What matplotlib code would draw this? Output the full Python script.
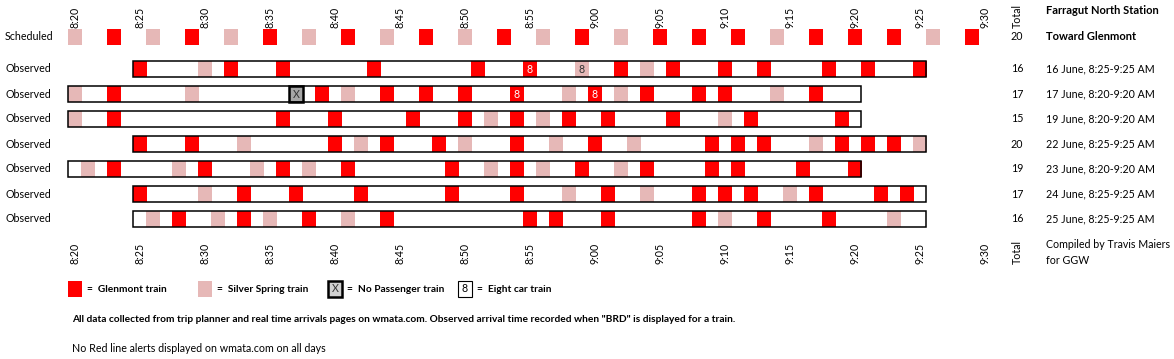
import matplotlib
matplotlib.use("Agg")
import matplotlib.pyplot as plt
from matplotlib.patches import Rectangle

plt.rcParams['font.family'] = ['Lato', 'DejaVu Sans']

GLEN = '#ff0000'
SILV = '#e6b8b7'
NOPASS = '#a6a6a6'

# minutes after 8:20.  G = Glenmont, S = Silver Spring, X = no passenger,
# a trailing 8 marks an eight car train
tick_labels = ['8:20', '8:25', '8:30', '8:35', '8:40', '8:45', '8:50', '8:55',
               '9:00', '9:05', '9:10', '9:15', '9:20', '9:25', '9:30']

sched_min = [0, 3, 6, 9, 12, 15, 18, 21, 24, 27, 30, 33, 36, 39, 42, 45,
             48, 51, 54, 57, 60, 63, 66, 69]
sched_type = ['S', 'G', 'S', 'G', 'S', 'G', 'S', 'G', 'S', 'G', 'S', 'G',
              'S', 'G', 'S', 'G', 'G', 'G', 'S', 'G', 'G', 'G', 'S', 'G']
sched_total = 20

jun16_min = [5, 10, 12, 16, 23, 31, 35, 39, 42, 44, 46, 50, 53, 58, 61, 65]
jun16_type = ['G', 'S', 'G', 'G', 'G', 'G', 'G8', 'S8', 'G', 'S', 'G', 'G',
              'G', 'G', 'G', 'G']
jun17_min = [0, 3, 9, 17, 19, 21, 24, 27, 30, 34, 38, 40, 42, 44, 48, 50, 54, 57]
jun17_type = ['S', 'G', 'S', 'X', 'G', 'S', 'G', 'G', 'G', 'G8', 'S', 'G8',
              'S', 'G', 'G', 'G', 'S', 'G']
jun19_min = [0, 3, 16, 20, 26, 30, 32, 34, 36, 38, 41, 46, 50, 52, 59]
jun19_type = ['S', 'G', 'G', 'G', 'G', 'G', 'S', 'G', 'S', 'G', 'G', 'G',
              'S', 'G', 'G']
jun22_min = [5, 9, 13, 20, 22, 24, 28, 30, 34, 37, 40, 43, 49, 51, 53, 57,
             59, 61, 63, 65]
jun22_type = ['G', 'G', 'S', 'G', 'S', 'G', 'G', 'S', 'G', 'S', 'G', 'S',
              'G', 'G', 'G', 'S', 'G', 'G', 'G', 'S']
jun23_min = [1, 3, 8, 10, 14, 16, 18, 21, 29, 32, 34, 36, 39, 42, 44, 49,
             51, 56, 60]
jun23_type = ['S', 'G', 'S', 'G', 'S', 'G', 'S', 'G', 'G', 'S', 'G', 'S',
              'G', 'S', 'G', 'G', 'G', 'G', 'G']
jun24_min = [5, 10, 13, 17, 22, 29, 34, 38, 41, 44, 48, 50, 52, 55, 57, 62, 64]
jun24_type = ['G', 'S', 'G', 'G', 'G', 'G', 'G', 'S', 'G', 'S', 'G', 'G',
              'G', 'S', 'G', 'G', 'G']
jun25_min = [6, 8, 11, 13, 15, 18, 21, 24, 35, 37, 41, 48, 50, 53, 58, 63]
jun25_type = ['S', 'G', 'S', 'G', 'S', 'G', 'S', 'G', 'G', 'G', 'G', 'G',
              'S', 'G', 'G', 'S']

obs_min = [jun16_min, jun17_min, jun19_min, jun22_min, jun23_min, jun24_min, jun25_min]
obs_type = [jun16_type, jun17_type, jun19_type, jun22_type, jun23_type, jun24_type, jun25_type]
obs_start = [5, 0, 0, 5, 0, 5, 5]
obs_end = [65, 60, 60, 65, 60, 65, 65]
obs_total = [16, 17, 15, 20, 19, 17, 16]
obs_labels = ['16 June, 8:25-9:25 AM', '17 June, 8:20-9:20 AM',
              '19 June, 8:20-9:20 AM', '22 June, 8:25-9:25 AM',
              '23 June, 8:20-9:20 AM', '24 June, 8:25-9:25 AM',
              '25 June, 8:25-9:25 AM']

W, H = 1174, 359
fig = plt.figure(figsize=(W / 100, H / 100), dpi=100)
ax = fig.add_axes([0, 0, 1, 1])
# x in minutes after 8:20 (13 px per minute, 8:20 cell starts at px 68)
# y in pixels from the top
ax.set_xlim(-68 / 13, (W - 68) / 13)
ax.set_ylim(H, 0)
ax.axis('off')


def px(x):
    return (x - 68) / 13


FS = 7.7
FSB = 7.3
CELL_W = 14 / 13
CELL_H = 16


def draw_cells(minutes, types, top):
    for m, t in zip(minutes, types):
        if t.startswith('X'):
            ax.bar(m, CELL_H, bottom=top, width=CELL_W, align='edge',
                   color=NOPASS, edgecolor='black', linewidth=1.8, zorder=4)
            ax.text(m + CELL_W / 2, top + CELL_H / 2, 'X', ha='center',
                    va='center', fontsize=FS, color='#333333', zorder=5)
            continue
        col = GLEN if t[0] == 'G' else SILV
        ax.bar(m, CELL_H, bottom=top, width=CELL_W, align='edge',
               color=col, linewidth=0, zorder=3)
        if t.endswith('8'):
            ax.text(m + CELL_W / 2, top + CELL_H / 2 + 0.5, '8', ha='center',
                    va='center', fontsize=FS,
                    color='white' if t[0] == 'G' else '#333333', zorder=5)


# tick labels, top and bottom
for i, lab in enumerate(tick_labels):
    x = 5 * i + 0.55
    ax.text(x, 28, lab, rotation=90, ha='center', va='bottom', fontsize=FS)
    ax.text(x, 243, lab, rotation=90, ha='center', va='top', fontsize=FS)
ax.text(px(1017), 28, 'Total', rotation=90, ha='center', va='bottom', fontsize=FS)
ax.text(px(1017), 240, 'Total', rotation=90, ha='center', va='top', fontsize=FS)

# scheduled row
ax.text(px(5), 37, 'Scheduled', ha='left', va='center', fontsize=FS)
draw_cells(sched_min, sched_type, 29)
ax.text(px(1017), 37, str(sched_total), ha='center', va='center', fontsize=FS)
ax.text(px(1046), 11, 'Farragut North Station', ha='left', va='center',
        fontsize=8, fontweight='bold')
ax.text(px(1046), 37, 'Toward Glenmont', ha='left', va='center',
        fontsize=8, fontweight='bold')

# observed rows
for k in range(len(obs_min)):
    top = 61 + 25 * k
    ax.text(px(5), top + 8, 'Observed', ha='left', va='center', fontsize=FS)
    draw_cells(obs_min[k], obs_type[k], top)
    ax.add_patch(Rectangle((obs_start[k], top), obs_end[k] - obs_start[k] + 1,
                           CELL_H, fill=False, edgecolor='black',
                           linewidth=1.1, zorder=6))
    ax.text(px(1017), top + 8, str(obs_total[k]), ha='center', va='center',
            fontsize=FS)
    ax.text(px(1046), top + 8, obs_labels[k], ha='left', va='center', fontsize=FS)

ax.text(px(1046), 245, 'Compiled by Travis Maiers', ha='left', va='center', fontsize=FS)
ax.text(px(1046), 260, 'for GGW', ha='left', va='center', fontsize=FS)

# legend
leg_top = 281
ax.bar(0, CELL_H, bottom=leg_top, width=CELL_W, align='edge', color=GLEN)
ax.text(px(87), leg_top + 8, '=  Glenmont train', ha='left', va='center',
        fontsize=FSB, fontweight='bold')
ax.bar(10, CELL_H, bottom=leg_top, width=CELL_W, align='edge', color=SILV)
ax.text(px(217), leg_top + 8, '=  Silver Spring train', ha='left', va='center',
        fontsize=FSB, fontweight='bold')
ax.bar(20, CELL_H, bottom=leg_top, width=CELL_W, align='edge', color='#d0d0d0',
       edgecolor='black', linewidth=1.8)
ax.text(20 + CELL_W / 2, leg_top + 8, 'X', ha='center', va='center', fontsize=FS,
        color='#333333')
ax.text(px(347), leg_top + 8, '=  No Passenger train', ha='left', va='center',
        fontsize=FSB, fontweight='bold')
ax.bar(30, CELL_H, bottom=leg_top, width=CELL_W, align='edge', color='white',
       edgecolor='black', linewidth=0.8)
ax.text(30 + CELL_W / 2, leg_top + 8, '8', ha='center', va='center', fontsize=FS)
ax.text(px(477), leg_top + 8, '=  Eight car train', ha='left', va='center',
        fontsize=FSB, fontweight='bold')

ax.text(px(72), 319, 'All data collected from trip planner and real time arrivals '
        'pages on wmata.com. Observed arrival time recorded when "BRD" is '
        'displayed for a train.', ha='left', va='center', fontsize=FSB,
        fontweight='bold')
ax.text(px(72), 348, 'No Red line alerts displayed on wmata.com on all days',
        ha='left', va='center', fontsize=FS)

fig.savefig('out.png', dpi=100)
